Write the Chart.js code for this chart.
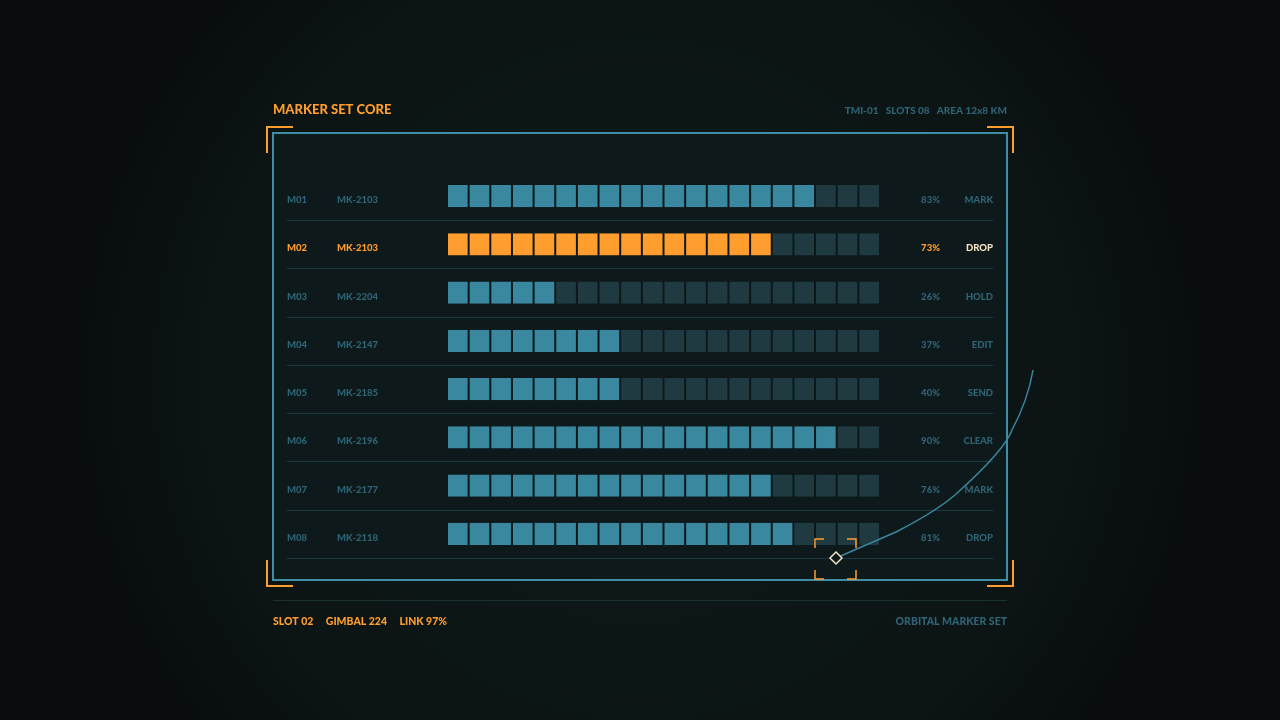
<!DOCTYPE html>
<html><head><meta charset="utf-8">
<script src="https://cdn.jsdelivr.net/npm/chart.js"></script>
<style>html,body{margin:0;padding:0;background:#0a0f11;}canvas{display:block}</style>
</head><body>
<div style="width:1280px;height:720px;position:relative"><canvas id="c"></canvas></div>
<script>
const slotIds = ["M01","M02","M03","M04","M05","M06","M07","M08"];
const markers = ["MK-2103","MK-2103","MK-2204","MK-2147","MK-2185","MK-2196","MK-2177","MK-2118"];
const filledCells = [17,15,5,8,8,18,15,16];
const percents = [83,73,26,37,40,90,76,81];
const actions = ["MARK","DROP","HOLD","EDIT","SEND","CLEAR","MARK","DROP"];
const cellCount = 20;
const activeRow = 1;

const TEAL='#3a87a0', EMPTY='#1f3b41', ORANGE='#ff9d2e', DIM='#2e6475', PANEL='#0e191b';
const datasets=[];
for(let k=0;k<cellCount;k++){
  datasets.push({data:slotIds.map(()=>1),stack:'s',
    backgroundColor:ctx=>{const i=ctx.dataIndex;if(k>=filledCells[i])return EMPTY;return i===activeRow?ORANGE:TEAL;},
    borderColor:PANEL,borderWidth:{left:1,right:1,top:0,bottom:0},borderSkipped:false,
    categoryPercentage:0.46,barPercentage:1});
}
const F='"Lato","DejaVu Sans",sans-serif';
const deco={id:'deco',
 beforeDraw(ch){const c=ch.ctx;c.save();
  const g=c.createRadialGradient(640,380,50,640,380,560);
  g.addColorStop(0,'#0f1a1a');g.addColorStop(0.75,'#0c1414');g.addColorStop(1,'#090d0f');
  c.fillStyle=g;c.fillRect(0,0,1280,720);
  c.fillStyle=PANEL;c.fillRect(273,133,734,447);
  c.strokeStyle='#3f8ea6';c.lineWidth=2;c.strokeRect(273,133,734,447);
  c.strokeStyle=ORANGE;c.lineWidth=2;
  const br=(x,y,dx,dy)=>{c.beginPath();c.moveTo(x+dx*26,y);c.lineTo(x,y);c.lineTo(x,y+dy*26);c.stroke();};
  br(267,127,1,1);br(1013,127,-1,1);br(267,586,1,-1);br(1013,586,-1,-1);
  c.strokeStyle='#1e3a40';c.lineWidth=1;
  const ya=ch.scales.y;
  for(let i=0;i<slotIds.length;i++){const y=Math.round(ya.getPixelForValue(i)+24)+0.5;c.beginPath();c.moveTo(287,y);c.lineTo(993,y);c.stroke();}
  c.strokeStyle='#1d3034';c.beginPath();c.moveTo(273,600.5);c.lineTo(1007,600.5);c.stroke();
  c.restore();},
 afterDraw(ch){const c=ch.ctx;c.save();const ya=ch.scales.y;
  c.textBaseline='middle';
  c.font='900 13px '+F;c.fillStyle=ORANGE;c.textAlign='left';c.fillText('MARKER SET CORE',273,110);
  c.font='900 10px '+F;c.fillStyle=DIM;c.textAlign='right';c.fillText('TMI-01   SLOTS 08   AREA 12x8 KM',1007,111);
  c.font='900 10.5px '+F;
  c.textAlign='left';c.fillStyle=ORANGE;c.fillText('SLOT 02     GIMBAL 224     LINK 97%',273,622);
  c.textAlign='right';c.fillStyle=DIM;c.fillText('ORBITAL MARKER SET',1007,622);
  c.font='900 9.5px '+F;
  for(let i=0;i<slotIds.length;i++){const y=ya.getPixelForValue(i)+4;const a=i===activeRow;
   c.textAlign='left';c.fillStyle=a?ORANGE:DIM;c.fillText(slotIds[i],287,y);c.fillText(markers[i],337,y);
   c.textAlign='right';c.fillText(percents[i]+'%',940,y);
   c.fillStyle=a?'#f2e3c4':DIM;c.fillText(actions[i],993,y);}
  c.strokeStyle='#3a87a0';c.lineWidth=1.5;c.beginPath();c.moveTo(836,558);
  c.lineTo(896,532);c.quadraticCurveTo(935,512,955,495);c.quadraticCurveTo(1005,450,1012,430);c.quadraticCurveTo(1028,400,1033,370);c.stroke();
  c.strokeStyle=ORANGE;c.lineWidth=1.5;
  const bx=(x,y,dx,dy)=>{c.beginPath();c.moveTo(x+dx*9,y);c.lineTo(x,y);c.lineTo(x,y+dy*9);c.stroke();};
  bx(815,539,1,1);bx(856,539,-1,1);bx(815,579,1,-1);bx(856,579,-1,-1);
  c.fillStyle=PANEL;c.strokeStyle='#f2e3c4';c.lineWidth=1.5;
  c.beginPath();c.moveTo(836,552);c.lineTo(842,558);c.lineTo(836,564);c.lineTo(830,558);c.closePath();c.fill();c.stroke();
  c.restore();}};
new Chart(document.getElementById('c'),{type:'bar',data:{labels:slotIds,datasets},
 options:{indexAxis:'y',responsive:true,maintainAspectRatio:false,animation:false,
  layout:{padding:{left:447,right:400,top:172,bottom:162}},
  plugins:{legend:{display:false},tooltip:{enabled:false}},
  scales:{x:{stacked:true,min:0,max:cellCount,display:false},y:{stacked:true,display:false}}},
 plugins:[deco]});
</script></body></html>
